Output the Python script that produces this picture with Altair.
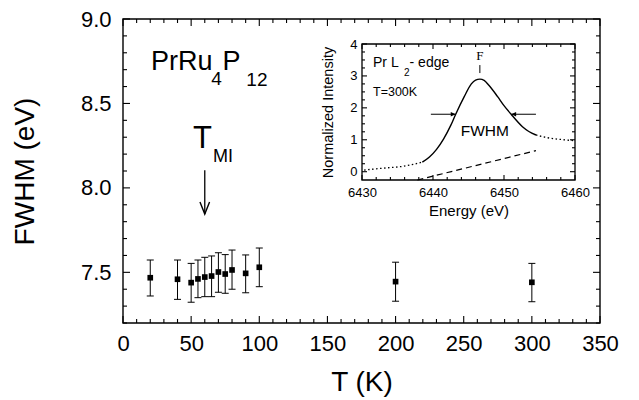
import altair as alt
import pandas as pd

# ---------------- data ----------------
temps = [20, 40, 50, 55, 60, 65, 70, 75, 80, 90, 100, 200, 300]
fwhm = [7.468, 7.459, 7.439, 7.461, 7.472, 7.478, 7.502, 7.490, 7.514, 7.494, 7.530, 7.445, 7.441]
err_low = [7.360, 7.340, 7.323, 7.350, 7.356, 7.356, 7.382, 7.376, 7.400, 7.379, 7.415, 7.329, 7.326]
err_high = [7.573, 7.573, 7.553, 7.573, 7.589, 7.597, 7.616, 7.605, 7.632, 7.603, 7.644, 7.560, 7.553]

# inset spectrum (Pr L2-edge, T=300K)
e_left = [6430.3, 6432.0, 6434.0, 6435.5, 6437.0, 6438.5]
i_left = [0.05, 0.09, 0.13, 0.16, 0.22, 0.30]
e_solid = [6438.5, 6439.5, 6440.5, 6441.5, 6442.5, 6443.2, 6444.4, 6445.4, 6446.0, 6446.6,
           6447.2, 6447.9, 6449.1, 6450.0, 6451.0, 6452.6, 6453.5, 6454.5]
i_solid = [0.30, 0.46, 0.70, 1.03, 1.45, 1.80, 2.35, 2.75, 2.87, 2.90,
           2.86, 2.70, 2.35, 2.07, 1.80, 1.41, 1.26, 1.15]
e_right = [6454.5, 6456.0, 6458.0, 6460.0]
i_right = [1.15, 1.07, 1.01, 0.97]
e_base = [6437.8, 6454.5]
i_base = [-0.26, 0.66]

# annotations (data coordinates)
chem_big = ["PrRu", "P"]
chem_big_x = [20.5, 73.0]
chem_big_y = [8.698, 8.698]
chem_small = ["4", "12"]
chem_small_x = [64.8, 90.5]
chem_small_y = [8.609, 8.603]
tmi_x, tmi_y = [51.4], [8.236]
mi_x, mi_y = [66.0], [8.153]
arrow_x, arrow_top, arrow_tip = [60], [8.105], [7.845]

# axis extents and tick values
X_DOM, Y_DOM = [0, 350], [7.2, 9.0]
IX_DOM, IY_DOM = [6430, 6460], [-0.26, 4.0]
X_MAJOR = list(range(0, 351, 50))
X_MINOR = [v for v in range(0, 351, 10) if v % 50]
Y_MAJOR = [7.5, 8.0, 8.5, 9.0]
Y_MINOR = [round(7.2 + 0.1 * i, 1) for i in range(19) if round(7.2 + 0.1 * i, 1) not in Y_MAJOR]
IX_MAJOR = [6430, 6440, 6450, 6460]
IX_MINOR = [v for v in range(6430, 6461, 2) if v % 10]
IY_MAJOR = [0, 1, 2, 3, 4]
IY_MINOR = [q / 4 for q in range(1, 16) if q % 4]

# ---------------- layout ----------------
W, H = 477, 304
FONT = "Liberation Sans"
IX0, IX1, IY0, IY1 = 239, 452, 161, 25   # inset frame in plot pixels


def label_axis(orient, values, title, fmt, label_size, label_pad, title_size, title_pad, offset=0):
    kw = dict(orient=orient, values=values, grid=False, domain=False, ticks=False, tickSize=0,
              labels=True, labelFont=FONT, labelFontSize=label_size, labelColor="black",
              labelPadding=label_pad, labelFlush=False, labelOverlap=False, format=fmt,
              title=title, titleFont=FONT, titleFontSize=title_size, titleFontWeight="normal",
              titleColor="black", titlePadding=title_pad)
    if offset:
        kw["offset"] = offset
    return alt.Axis(**kw)


MAIN_XAXIS = label_axis("bottom", X_MAJOR, "T (K)", "d", 22, 10, 28, 14)
MAIN_YAXIS = label_axis("left", Y_MAJOR, "FWHM (eV)", ".1f", 22, 12, 28, 41)
INSET_XAXIS = label_axis("bottom", IX_MAJOR, "Energy (eV)", "d", 13, 6, 15, 4, offset=-(H - IY0))
INSET_YAXIS = label_axis("left", IY_MAJOR, "Normalized Intensity", "d", 13, 5, 14.5, 14, offset=-IX0)

mX = lambda f: alt.X(f, type="quantitative", scale=alt.Scale(domain=X_DOM, nice=False, zero=False), axis=MAIN_XAXIS)
mY = lambda f: alt.Y(f, type="quantitative", scale=alt.Scale(domain=Y_DOM, nice=False, zero=False), axis=MAIN_YAXIS)
iX = lambda f: alt.X(f, type="quantitative",
                     scale=alt.Scale(domain=IX_DOM, range=[IX0, IX1], nice=False, zero=False), axis=INSET_XAXIS)
iY = lambda f: alt.Y(f, type="quantitative",
                     scale=alt.Scale(domain=IY_DOM, range=[IY0, IY1], nice=False, zero=False), axis=INSET_YAXIS)

main_df = pd.DataFrame({"T": temps, "fwhm": fwhm, "lo": err_low, "hi": err_high})
curve_df = pd.DataFrame({"E": e_solid, "I": i_solid})

PATHS = {"up": "M 0 0 L 0 -1", "down": "M 0 0 L 0 1", "right": "M 0 0 L 1 0", "left": "M 0 0 L -1 0"}


def frame(xdom, ydom, fx, fy, width):
    df = pd.DataFrame({"x": [xdom[0]], "x2": [xdom[1]], "y": [ydom[0]], "y2": [ydom[1]]})
    return alt.Chart(df).mark_rect(fill="white", fillOpacity=0, stroke="black", strokeWidth=width).encode(
        x=fx("x"), x2="x2", y=fy("y"), y2="y2")


def tick_marks(xmaj, xmin, ymaj, ymin, xdom, ydom, fx, fy, big, small):
    rows = []
    for vals, kind in ((xmaj, "major"), (xmin, "minor")):
        for v in vals:
            rows.append({"x": v, "y": ydom[0], "dir": "up", "kind": kind})
            rows.append({"x": v, "y": ydom[1], "dir": "down", "kind": kind})
    for vals, kind in ((ymaj, "major"), (ymin, "minor")):
        for v in vals:
            rows.append({"x": xdom[0], "y": v, "dir": "right", "kind": kind})
            rows.append({"x": xdom[1], "y": v, "dir": "left", "kind": kind})
    df = pd.DataFrame(rows)
    return alt.Chart(df).mark_point(filled=False, color="black", strokeWidth=1.1, opacity=1).encode(
        x=fx("x"), y=fy("y"),
        shape=alt.Shape("dir:N", scale=alt.Scale(domain=list(PATHS), range=list(PATHS.values())), legend=None),
        size=alt.Size("kind:O", scale=alt.Scale(domain=["major", "minor"], range=[big, small]), legend=None))


def text_layer(texts, xs, ys, fx, fy, size, align="left", font=FONT):
    df = pd.DataFrame({"t": texts, "x": xs, "y": ys})
    return alt.Chart(df).mark_text(align=align, baseline="alphabetic", font=font, fontSize=size,
                                   color="black").encode(x=fx("x"), y=fy("y"), text="t:N")


# ================= main panel =================
main_layers = [
    frame(X_DOM, Y_DOM, mX, mY, 1.4),
    tick_marks(X_MAJOR, X_MINOR, Y_MAJOR, Y_MINOR, X_DOM, Y_DOM, mX, mY, 196, 64),
    alt.Chart(main_df).mark_rule(color="black", strokeWidth=1).encode(x=mX("T"), y=mY("lo"), y2="hi"),
    alt.Chart(main_df).mark_tick(orient="horizontal", size=7, thickness=1, color="black", opacity=1).encode(
        x=mX("T"), y=mY("lo")),
    alt.Chart(main_df).mark_tick(orient="horizontal", size=7, thickness=1, color="black", opacity=1).encode(
        x=mX("T"), y=mY("hi")),
    alt.Chart(main_df).mark_point(shape="square", filled=True, size=32, color="black", opacity=1).encode(
        x=mX("T"), y=mY("fwhm")),
    text_layer(chem_big, chem_big_x, chem_big_y, mX, mY, 27),
    text_layer(chem_small, chem_small_x, chem_small_y, mX, mY, 19),
    text_layer(["T"], tmi_x, tmi_y, mX, mY, 31),
    text_layer(["MI"], mi_x, mi_y, mX, mY, 18),
]
arrow_df = pd.DataFrame({"x": arrow_x, "y": arrow_top, "y2": arrow_tip})
main_layers.append(alt.Chart(arrow_df).mark_rule(color="black", strokeWidth=1.3).encode(
    x=mX("x"), y=mY("y"), y2="y2"))
main_layers.append(alt.Chart(arrow_df).mark_point(shape="M -0.4 -1 L 0 0 L 0.4 -1", filled=False, size=576,
                                                   color="black", strokeWidth=1.4, opacity=1).encode(
    x=mX("x"), y=mY("y2")))
main_panel = alt.layer(*main_layers)

# ================= inset panel =================
inset_layers = [
    frame(IX_DOM, IY_DOM, iX, iY, 1.3),
    tick_marks(IX_MAJOR, IX_MINOR, IY_MAJOR, IY_MINOR, IX_DOM, IY_DOM, iX, iY, 100, 36),
    alt.Chart(curve_df).mark_line(color="black", strokeWidth=1.4, interpolate="monotone").encode(
        x=iX("E"), y=iY("I"), order="E:Q"),
    alt.Chart(pd.DataFrame({"E": e_left, "I": i_left})).mark_line(
        color="black", strokeWidth=1.3, strokeDash=[1.5, 2.5], interpolate="monotone").encode(
        x=iX("E"), y=iY("I"), order="E:Q"),
    alt.Chart(pd.DataFrame({"E": e_right, "I": i_right})).mark_line(
        color="black", strokeWidth=1.3, strokeDash=[1.5, 2.5], interpolate="monotone").encode(
        x=iX("E"), y=iY("I"), order="E:Q"),
    alt.Chart(pd.DataFrame({"E": e_base, "I": i_base})).mark_line(
        color="black", strokeWidth=1.2, strokeDash=[6, 4]).encode(
        x=iX("E"), y=iY("I"), order="E:Q"),
]
fw_df = pd.DataFrame({"x1": [6439.7, 6454.5], "x2": [6443.2, 6451.0], "y": [1.80, 1.80]})
inset_layers.append(alt.Chart(fw_df).mark_rule(color="black", strokeWidth=1).encode(
    x=iX("x1"), x2="x2", y=iY("y")))
inset_layers.append(alt.Chart(fw_df.iloc[[0]]).mark_point(shape="M -1 -0.45 L 0 0 L -1 0.45 Z", filled=True,
                                                           size=100, color="black", opacity=1).encode(
    x=iX("x2"), y=iY("y")))
inset_layers.append(alt.Chart(fw_df.iloc[[1]]).mark_point(shape="M 1 -0.45 L 0 0 L 1 0.45 Z", filled=True,
                                                           size=100, color="black", opacity=1).encode(
    x=iX("x2"), y=iY("y")))
f_df = pd.DataFrame({"x": [6446.6], "y": [3.09], "y2": [3.34]})
inset_layers.append(alt.Chart(f_df).mark_rule(color="black", strokeWidth=1).encode(
    x=iX("x"), y=iY("y"), y2="y2"))
inset_layers.append(text_layer(["F"], [6446.6], [3.50], iX, iY, 13, align="center", font="Liberation Serif"))
inset_layers.append(text_layer(["Pr  L"], [6431.55], [3.28], iX, iY, 14))
inset_layers.append(text_layer(["2"], [6435.9], [3.00], iX, iY, 10))
inset_layers.append(text_layer(["- edge"], [6436.7], [3.28], iX, iY, 14))
inset_layers.append(text_layer(["T=300K"], [6431.55], [2.37], iX, iY, 12.5))
inset_layers.append(text_layer(["FWHM"], [6447.3], [1.12], iX, iY, 15.5, align="center"))
inset_panel = alt.layer(*inset_layers)

panel = alt.layer(main_panel, inset_panel).resolve_scale(
    x="independent", y="independent", shape="independent", size="independent"
).properties(width=W, height=H)

chart = alt.vconcat(panel).properties(
    padding={"left": 3, "top": 0, "right": 5, "bottom": 5},
).configure_view(strokeWidth=0)

chart.save("out.html", embed_options={"renderer": "svg", "actions": False})
